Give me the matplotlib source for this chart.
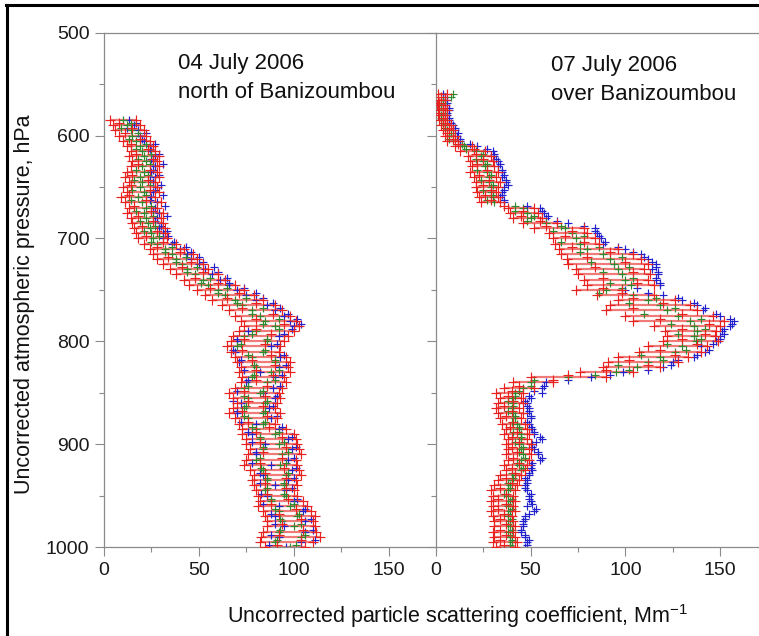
import matplotlib
matplotlib.use("Agg")
import matplotlib.pyplot as plt
from matplotlib.ticker import MultipleLocator
from matplotlib.lines import Line2D

plt.rcParams['font.family'] = ['Liberation Sans', 'DejaVu Sans']

# ---- 04 July 2006, north of Banizoumbou ----
left_p = [585, 590, 595, 600, 605, 610, 615, 620, 625, 630,
          635, 640, 645, 650, 655, 660, 665, 670, 675, 680,
          685, 690, 695, 700, 705, 710, 715, 720, 725, 730,
          735, 740, 745, 750, 755, 760, 765, 770, 775, 780,
          785, 790, 795, 800, 805, 810, 815, 820, 825, 830,
          835, 840, 845, 850, 855, 860, 865, 870, 875, 880,
          885, 890, 895, 900, 905, 910, 915, 920, 925, 930,
          935, 940, 945, 950, 955, 960, 965, 970, 975, 980,
          985, 990, 995, 1000]
left_red1 = [3, 5, 6, 8, 10, 12, 14, 13, 15, 14,
             12, 11, 13, 10, 12, 9, 11, 13, 12, 14,
             15, 16, 17, 18, 21, 24, 26, 28, 31, 35,
             38, 42, 45, 49, 53, 57, 62, 66, 69, 72,
             74, 71, 68, 67, 65, 67, 69, 70, 72, 71,
             73, 72, 69, 66, 68, 70, 68, 66, 69, 71,
             73, 73, 75, 75, 77, 76, 75, 74, 77, 79,
             78, 79, 80, 81, 82, 81, 84, 85, 86, 86,
             84, 83, 82, 85]
left_red2 = [17, 19, 21, 22, 24, 26, 27, 29, 28, 29,
             28, 29, 27, 28, 29, 27, 30, 28, 31, 30,
             31, 32, 32, 33, 38, 42, 47, 49, 52, 55,
             60, 64, 69, 74, 79, 84, 90, 94, 98, 101,
             103, 100, 97, 95, 93, 92, 96, 98, 97, 98,
             95, 96, 94, 92, 93, 91, 90, 93, 91, 90,
             96, 100, 101, 102, 103, 104, 101, 102, 103, 104,
             101, 102, 100, 102, 105, 107, 109, 111, 110, 111,
             112, 114, 110, 106]
left_green = [10, 12, 14, 15, 17, 19, 20, 21, 22, 20,
              21, 19, 20, 19, 21, 18, 20, 22, 21, 22,
              23, 24, 25, 26, 28, 32, 36, 38, 41, 44,
              48, 52, 55, 60, 64, 69, 73, 78, 82, 85,
              90, 80, 74, 86, 70, 84, 78, 90, 80, 88,
              78, 86, 74, 82, 76, 85, 74, 84, 76, 84,
              80, 90, 82, 92, 84, 94, 80, 93, 84, 96,
              86, 95, 85, 96, 88, 98, 92, 102, 94, 100,
              92, 104, 90, 98]
left_blue = [13, 16, 18, 19, 21, 24, 25, 27, 26, 27,
             25, 27, 26, 28, 26, 25, 28, 27, 29, 28,
             30, 29, 31, 31, 36, 40, 44, 46, 50, 53,
             57, 61, 66, 70, 75, 80, 86, 90, 95, 98,
             100, 76, 92, 70, 88, 69, 93, 71, 92, 82,
             90, 75, 89, 84, 90, 72, 87, 70, 88, 80,
             92, 78, 97, 85, 99, 80, 97, 88, 99, 84,
             97, 90, 96, 86, 100, 92, 105, 90, 106, 95,
             106, 92, 104, 96]

# readings in between the levels above
left_pm = [588, 593, 598, 603, 608, 613, 618, 623, 628, 633,
           638, 643, 648, 653, 658, 663, 668, 673, 678, 683,
           688, 693, 698, 703, 708, 713, 718, 723, 728, 733,
           738, 743, 748, 753, 758, 763, 768, 773, 778, 783,
           788, 793, 798, 803, 808, 813, 818, 823, 828, 833,
           838, 843, 848, 853, 858, 863, 868, 873, 878, 883,
           888, 893, 898, 903, 908, 913, 918, 923, 928, 933,
           938, 943, 948, 953, 958, 963, 968, 973, 978, 983,
           988, 993, 998]
left_red_m = [8, 15, 11, 19, 14, 23, 17, 26, 18, 24,
              15, 23, 14, 24, 13, 22, 16, 25, 18, 26,
              20, 28, 22, 31, 28, 40, 34, 46, 41, 52,
              48, 60, 56, 71, 65, 80, 73, 89, 80, 95,
              80, 88, 74, 85, 73, 88, 78, 90, 80, 89,
              80, 86, 74, 85, 76, 84, 73, 86, 76, 87,
              80, 94, 82, 96, 84, 94, 82, 95, 85, 96,
              85, 96, 86, 97, 88, 101, 92, 104, 94, 105,
              92, 104, 91]
left_green_m = [14, 9, 18, 13, 22, 17, 25, 18, 24, 17,
                23, 16, 24, 15, 22, 14, 25, 17, 26, 19,
                27, 21, 29, 25, 36, 32, 43, 38, 49, 44,
                56, 51, 65, 60, 75, 70, 84, 78, 92, 84,
                92, 78, 86, 72, 85, 76, 90, 79, 92, 79,
                90, 76, 84, 74, 86, 75, 85, 74, 85, 78,
                92, 82, 95, 84, 97, 82, 96, 83, 97, 86,
                95, 86, 95, 88, 100, 90, 103, 93, 104, 93,
                106, 91, 101]
left_blue_m = [17, 12, 22, 20, 27, 24, 29, 25, 31, 26,
               29, 24, 30, 27, 31, 24, 32, 26, 33, 27,
               30, 33, 34, 37, 43, 46, 50, 52, 58, 60,
               65, 66, 74, 80, 84, 89, 93, 97, 102, 104,
               99, 95, 70, 91, 68, 95, 72, 96, 74, 94,
               76, 93, 70, 91, 68, 89, 70, 91, 72, 94,
               76, 99, 78, 101, 80, 100, 78, 101, 82, 100,
               82, 99, 83, 102, 84, 106, 88, 109, 90, 110,
               88, 111, 87]

# ---- 07 July 2006, over Banizoumbou ----
right_p = [560, 565, 570, 575, 580, 585, 590, 595, 600, 605,
           610, 615, 620, 625, 630, 635, 640, 645, 650, 655,
           660, 665, 670, 675, 680, 685, 690, 695, 700, 705,
           710, 715, 720, 725, 730, 735, 740, 745, 750, 755,
           760, 765, 770, 775, 780, 785, 790, 795, 800, 805,
           810, 815, 820, 825, 830, 835, 840, 845, 850, 855,
           860, 865, 870, 875, 880, 885, 890, 895, 900, 905,
           910, 915, 920, 925, 930, 935, 940, 945, 950, 955,
           960, 965, 970, 975, 980, 985, 990, 995, 1000]
right_red1 = [1, 1, 0.5, 1, 1, 2, 3, 4, 5, 6,
              10, 13, 17, 18, 19, 18, 20, 21, 21, 22,
              23, 24, 38, 39, 41, 46, 52, 60, 62, 63,
              65, 66, 69, 70, 74, 75, 78, 80, 74, 85,
              96, 92, 90, 100, 104, 115, 121, 122, 120, 112,
              107, 96, 91, 88, 76, 50, 41, 36, 32, 34,
              33, 32, 33, 34, 35, 37, 36, 38, 37, 38,
              37, 38, 36, 37, 34, 33, 31, 29, 30, 29,
              30, 29, 30, 31, 31, 30, 31, 30, 32]
right_red2 = [6, 5, 5, 6, 5, 6, 8, 9, 10, 12,
              19, 26, 29, 30, 31, 33, 32, 34, 33, 32,
              33, 34, 52, 54, 56, 64, 78, 80, 84, 86,
              96, 104, 108, 112, 110, 113, 112, 115, 98, 115,
              126, 134, 138, 146, 152, 150, 148, 147, 149, 143,
              140, 133, 128, 118, 104, 90, 62, 52, 46, 45,
              46, 44, 46, 45, 47, 48, 49, 48, 50, 49,
              50, 49, 48, 47, 45, 44, 43, 42, 41, 42,
              41, 42, 40, 41, 42, 41, 42, 43, 42]
right_green = [9, 4, 3, 4, 3, 4, 5, 6, 7, 9,
               15, 21, 24, 25, 26, 27, 28, 28, 29, 29,
               30, 31, 46, 48, 50, 58, 68, 72, 74, 76,
               80, 88, 92, 94, 96, 98, 100, 103, 90, 104,
               112, 118, 122, 128, 134, 136, 138, 136, 137, 130,
               126, 118, 112, 106, 95, 70, 50, 46, 42, 40,
               41, 40, 41, 42, 43, 44, 45, 45, 44, 45,
               46, 45, 44, 45, 42, 40, 39, 38, 38, 39,
               38, 39, 38, 39, 39, 38, 39, 40, 39]
right_blue = [4, 6, 5, 7, 6, 7, 9, 10, 11, 13,
              22, 30, 31, 33, 33, 35, 35, 37, 36, 35,
              34, 36, 55, 57, 58, 70, 84, 85, 87, 88,
              100, 108, 112, 116, 114, 117, 116, 118, 100, 120,
              130, 138, 141, 150, 157, 155, 151, 150, 148, 140,
              142, 136, 125, 120, 99, 82, 58, 56, 56, 50,
              48, 49, 48, 50, 49, 51, 52, 56, 51, 52,
              54, 55, 50, 51, 49, 48, 47, 48, 49, 50,
              48, 52, 47, 46, 46, 45, 47, 48, 47]

right_pm = [563, 568, 573, 578, 583, 588, 593, 598, 603, 608,
            613, 618, 623, 628, 633, 638, 643, 648, 653, 658,
            663, 668, 673, 678, 683, 688, 693, 698, 703, 708,
            713, 718, 723, 728, 733, 738, 743, 748, 753, 758,
            763, 768, 773, 778, 783, 788, 793, 798, 803, 808,
            813, 818, 823, 828, 833, 838, 843, 848, 853, 858,
            863, 868, 873, 878, 883, 888, 893, 898, 903, 908,
            913, 918, 923, 928, 933, 938, 943, 948, 953, 958,
            963, 968, 973, 978, 983, 988, 993, 998]
right_red_m = [3, 2, 4, 2, 4, 5, 7, 6, 9, 12,
               20, 21, 25, 22, 27, 23, 28, 25, 29, 26,
               29, 36, 46, 45, 55, 58, 72, 68, 78, 72,
               92, 80, 100, 84, 104, 88, 106, 88, 98, 104,
               120, 104, 130, 118, 144, 130, 142, 130, 138, 118,
               126, 102, 112, 90, 70, 62, 44, 40, 38, 41,
               36, 40, 37, 41, 39, 43, 40, 44, 40, 43,
               41, 44, 40, 42, 37, 40, 34, 37, 33, 37,
               33, 36, 34, 37, 34, 37, 34, 36]
right_green_m = [8, 4, 2, 4, 3, 4, 5, 8, 7, 14,
                 16, 25, 21, 27, 22, 29, 24, 30, 25, 30,
                 27, 42, 42, 52, 48, 66, 62, 78, 66, 86,
                 76, 98, 82, 102, 88, 104, 92, 98, 86, 116,
                 102, 126, 110, 140, 124, 142, 128, 140, 122, 132,
                 108, 120, 96, 102, 84, 52, 50, 44, 42, 38,
                 41, 38, 42, 40, 44, 41, 45, 42, 46, 44,
                 47, 43, 46, 40, 41, 38, 39, 36, 40, 38,
                 40, 38, 40, 38, 40, 39, 40, 39]
right_blue_m = [5, 6, 7, 6, 7, 8, 10, 12, 13, 18,
                27, 31, 32, 34, 35, 36, 37, 38, 36, 35,
                36, 48, 56, 59, 64, 78, 84, 86, 89, 96,
                104, 110, 114, 116, 117, 116, 118, 106, 112, 128,
                136, 142, 148, 155, 156, 152, 152, 150, 146, 144,
                138, 128, 124, 112, 92, 70, 57, 52, 49, 47,
                48, 49, 50, 48, 50, 52, 55, 53, 51, 54,
                56, 51, 50, 49, 47, 48, 47, 50, 49, 51,
                53, 49, 47, 46, 45, 47, 49, 48]

RED = '#e8231f'
GREEN = '#2f8a2f'
BLUE = '#2222cc'
AXCOL = '#8a8a8a'

fig = plt.figure(figsize=(7.59, 6.36), dpi=100)
ax1 = fig.add_axes([0.137, 0.1399, 0.4374, 0.8087])
ax2 = fig.add_axes([0.574, 0.1399, 0.4374, 0.8087])

panels = [
    (ax1, left_p, left_red1, left_red2, left_green, left_blue,
     left_pm, left_red_m, left_green_m, left_blue_m),
    (ax2, right_p, right_red1, right_red2, right_green, right_blue,
     right_pm, right_red_m, right_green_m, right_blue_m),
]

for ax, p, r1, r2, g, b, pm, rm, gm, bm in panels:
    kw = dict(marker='+', linestyle='none', markersize=6, markeredgewidth=0.85)
    # overlapping red readings form horizontal streaks
    ax.hlines(p, r1, r2, color=RED, linewidth=1.6, alpha=0.6, zorder=1)
    ax.plot(b, p, color=BLUE, zorder=2, **kw)
    ax.plot(bm, pm, color=BLUE, zorder=2, **kw)
    ax.plot(g, p, color=GREEN, zorder=2, **kw)
    ax.plot(gm, pm, color=GREEN, zorder=2, **kw)
    kw['markersize'] = 6.5
    ax.plot(r1, p, color=RED, zorder=3, **kw)
    ax.plot(r2, p, color=RED, zorder=3, **kw)
    ax.plot(rm, pm, color=RED, zorder=3, **kw)

    ax.set_xlim(0, 175)
    ax.set_ylim(1000, 500)
    ax.xaxis.set_major_locator(MultipleLocator(50))
    ax.xaxis.set_minor_locator(MultipleLocator(25))
    ax.yaxis.set_major_locator(MultipleLocator(100))
    ax.yaxis.set_minor_locator(MultipleLocator(50))
    ax.tick_params(which='both', direction='out', color=AXCOL, labelsize=14,
                   labelcolor='#1a1a1a', top=False, right=False)
    ax.tick_params(which='major', length=6.5, width=0.8, pad=4)
    ax.tick_params(which='minor', length=3.6, width=0.8)
    for s in ax.spines.values():
        s.set_color(AXCOL)
        s.set_linewidth(0.9)

ax1.spines['right'].set_visible(False)
ax2.tick_params(axis='y', labelleft=False)

fig.text(178 / 759, 1 - 69 / 636, '04 July 2006', fontsize=16, va='baseline', color='#111111')
fig.text(178 / 759, 1 - 98 / 636, 'north of Banizoumbou', fontsize=16, va='baseline', color='#111111')
fig.text(551 / 759, 1 - 71 / 636, '07 July 2006', fontsize=16, va='baseline', color='#111111')
fig.text(551 / 759, 1 - 100 / 636, 'over Banizoumbou', fontsize=16, va='baseline', color='#111111')

fig.text(457 / 759, 1 - 623 / 636, 'Uncorrected particle scattering coefficient, Mm$^{\\mathregular{-1}}$',
         fontsize=15.5, ha='center', va='baseline', color='#111111')
fig.text(25 / 759, 1 - 304 / 636, 'Uncorrected atmospheric pressure, hPa', fontsize=15.5,
         rotation=90, ha='center', va='center', color='#111111')

# black frame (cropped on the right and bottom)
fig.add_artist(Line2D([7 / 759, 7 / 759], [0, 1 - 5 / 636], color='black', lw=2.2,
                      transform=fig.transFigure))
fig.add_artist(Line2D([6 / 759, 1], [1 - 5 / 636, 1 - 5 / 636], color='black', lw=2.2,
                      transform=fig.transFigure))

fig.savefig('out.png', dpi=100)
